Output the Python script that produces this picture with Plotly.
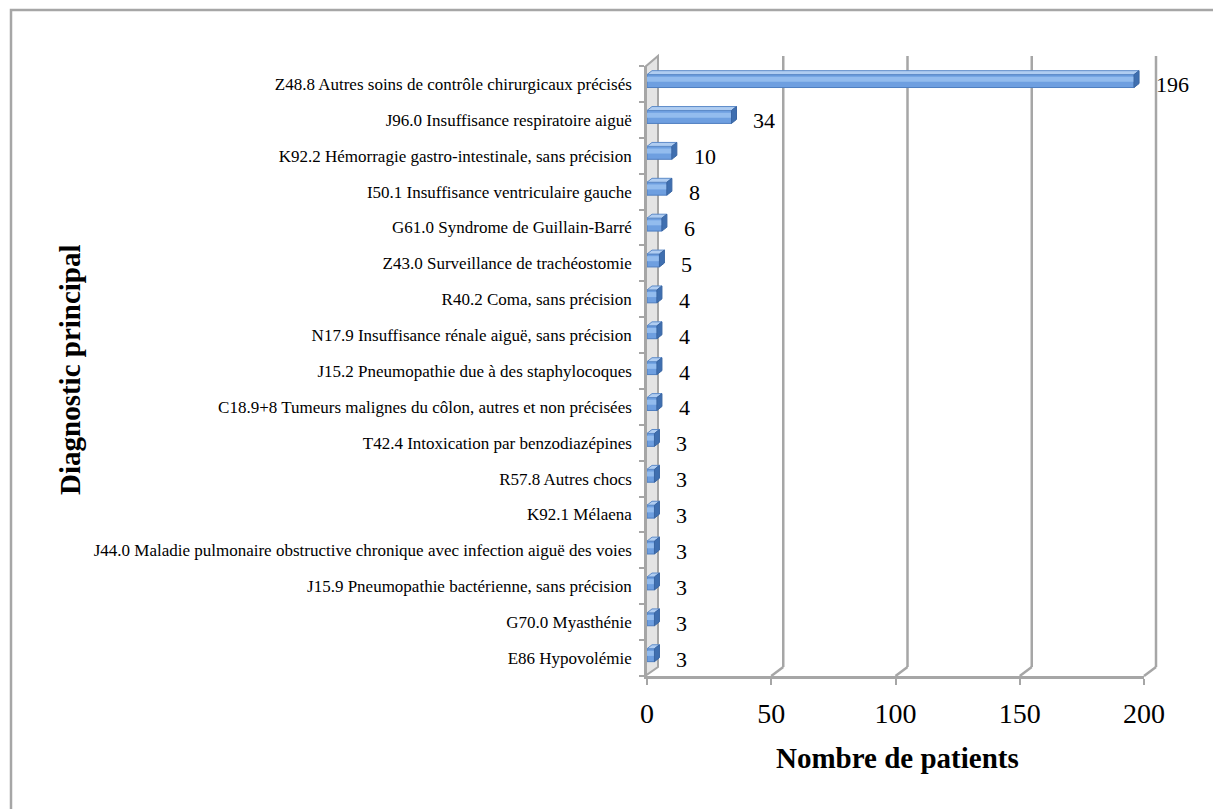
import plotly.graph_objects as go

# Data, top to bottom as shown in the chart
LABELS = [
    "Z48.8 Autres soins de contrôle chirurgicaux précisés",
    "J96.0 Insuffisance respiratoire aiguë",
    "K92.2 Hémorragie gastro-intestinale, sans précision",
    "I50.1 Insuffisance ventriculaire gauche",
    "G61.0 Syndrome de Guillain-Barré",
    "Z43.0 Surveillance de trachéostomie",
    "R40.2 Coma, sans précision",
    "N17.9 Insuffisance rénale aiguë, sans précision",
    "J15.2 Pneumopathie due à des staphylocoques",
    "C18.9+8 Tumeurs malignes du côlon, autres et non précisées",
    "T42.4 Intoxication par benzodiazépines",
    "R57.8 Autres chocs",
    "K92.1 Mélaena",
    "J44.0 Maladie pulmonaire obstructive chronique avec infection aiguë des voies",
    "J15.9 Pneumopathie bactérienne, sans précision",
    "G70.0 Myasthénie",
    "E86 Hypovolémie",
]
PATIENTS = [196, 34, 10, 8, 6, 5, 4, 4, 4, 4, 3, 3, 3, 3, 3, 3, 3]
X_TICKS = [0, 50, 100, 150, 200]

FONT = "Liberation Serif, Times New Roman, serif"
GREY = "#A6A6A6"

# page has an 8px body margin, so figure pixels = page pixels - 8
PAGE = 8
W, H = 1221, 809
L, R, T, B = 647 - PAGE, 1144 - PAGE, 66 - PAGE, 676 - PAGE
PX_PER_UNIT = (R - L) / 200.0

def px_x(px):
    # px given in page pixels
    return (px - PAGE - L) / (R - L)

def px_y(py):
    return (B - (py - PAGE)) / (B - T)

# bottom category first so that index 0 sits at the bottom
labels = LABELS[::-1]
values = PATIENTS[::-1]
idx = list(range(len(labels)))

# 3D look: front face, top face, end cap
F0, F1, DY = -0.10, 0.26, 0.11
DX = 5 / PX_PER_UNIT

top_x, top_y, cap_x, cap_y = [], [], [], []
for i, v in zip(idx, values):
    top_x += [0, v, v + DX, DX, 0, None]
    top_y += [i + F1, i + F1, i + F1 + DY, i + F1 + DY, i + F1, None]
    cap_x += [v, v + DX, v + DX, v, v, None]
    cap_y += [i + F0, i + F0 + DY, i + F1 + DY, i + F1, i + F0, None]

fig = go.Figure()
fig.add_trace(go.Bar(
    x=values, y=idx, orientation="h",
    width=F1 - F0, offset=F0,
    marker=dict(color="#6E9FE0", line=dict(color="#4F7EC0", width=1)),
    hoverinfo="skip",
))
fig.add_trace(go.Bar(
    x=values, y=idx, orientation="h",
    width=0.14, offset=0.06,
    marker=dict(color="#93BCEE", line=dict(width=0)),
    hoverinfo="skip",
))
fig.add_trace(go.Scatter(
    x=top_x, y=top_y, mode="lines", fill="toself",
    fillcolor="#B0CDF1", line=dict(color="#5D8BC9", width=1),
    hoverinfo="skip",
))
fig.add_trace(go.Scatter(
    x=cap_x, y=cap_y, mode="lines", fill="toself",
    fillcolor="#3F6FB0", line=dict(color="#3A66A3", width=1),
    hoverinfo="skip",
))

# value labels
for i, v in zip(idx, values):
    fig.add_annotation(
        x=v, y=i, text=str(v), showarrow=False,
        xanchor="left", xshift=20, yshift=-1,
        font=dict(family=FONT, size=22, color="#000000"),
    )

shapes = []
# left wall
shapes.append(dict(
    type="path", xref="paper", yref="paper", layer="below",
    path=f"M {px_x(645)},{px_y(676)} L {px_x(645)},{px_y(67)} "
         f"L {px_x(658)},{px_y(56)} L {px_x(658)},{px_y(667)} Z",
    fillcolor="#E4E4E4", line=dict(color=GREY, width=2),
))
# back wall gridlines with floor diagonals
for v in X_TICKS[1:]:
    xf = v / 200.0
    xb = xf + 12 / (R - L)
    shapes.append(dict(type="line", xref="paper", yref="paper", layer="below",
                       x0=xb, x1=xb, y0=px_y(667), y1=px_y(56),
                       line=dict(color=GREY, width=2.5)))
    shapes.append(dict(type="line", xref="paper", yref="paper", layer="below",
                       x0=xf, x1=xb, y0=0, y1=px_y(667),
                       line=dict(color=GREY, width=2.5)))
# outer frame
shapes.append(dict(type="rect", xref="paper", yref="paper", layer="below",
                   x0=px_x(11), x1=px_x(1218), y0=px_y(840), y1=px_y(10),
                   line=dict(color=GREY, width=2.5)))

fig.update_layout(
    width=W, height=H,
    margin=dict(l=L, r=W - R, t=T, b=H - B),
    paper_bgcolor="white", plot_bgcolor="rgba(0,0,0,0)",
    barmode="overlay", showlegend=False,
    font=dict(family=FONT, color="#000000"),
    shapes=shapes,
)
fig.update_xaxes(
    range=[0, 200], tickvals=X_TICKS,
    showgrid=False, zeroline=False,
    showline=True, linecolor=GREY, linewidth=2.5,
    ticks="outside", ticklen=6, tickwidth=2, tickcolor=GREY,
    tickfont=dict(family=FONT, size=28, color="#000000"),
    ticklabelstandoff=5,
)
fig.update_yaxes(
    range=[-0.5, len(labels) - 0.5],
    tickvals=idx, ticktext=labels,
    showgrid=False, zeroline=False,
    showline=True, linecolor=GREY, linewidth=2.5,
    ticks="", ticklabelstandoff=9,
    tickfont=dict(family=FONT, size=17, color="#000000"),
    minor=dict(tickvals=[i - 0.5 for i in range(len(labels) + 1)],
               ticks="outside", ticklen=5, tickwidth=2, tickcolor=GREY),
)

# axis titles
fig.add_annotation(
    xref="paper", yref="paper", x=px_x(897), y=px_y(758),
    xanchor="center", yanchor="middle",
    text="<b>Nombre de patients</b>", showarrow=False,
    font=dict(family=FONT, size=29, color="#000000"),
)
fig.add_annotation(
    xref="paper", yref="paper", x=px_x(70), y=px_y(370),
    xanchor="center", yanchor="middle",
    text="<b>Diagnostic principal</b>", showarrow=False, textangle=-90,
    font=dict(family=FONT, size=29, color="#000000"),
)

fig.write_html("out.html")
